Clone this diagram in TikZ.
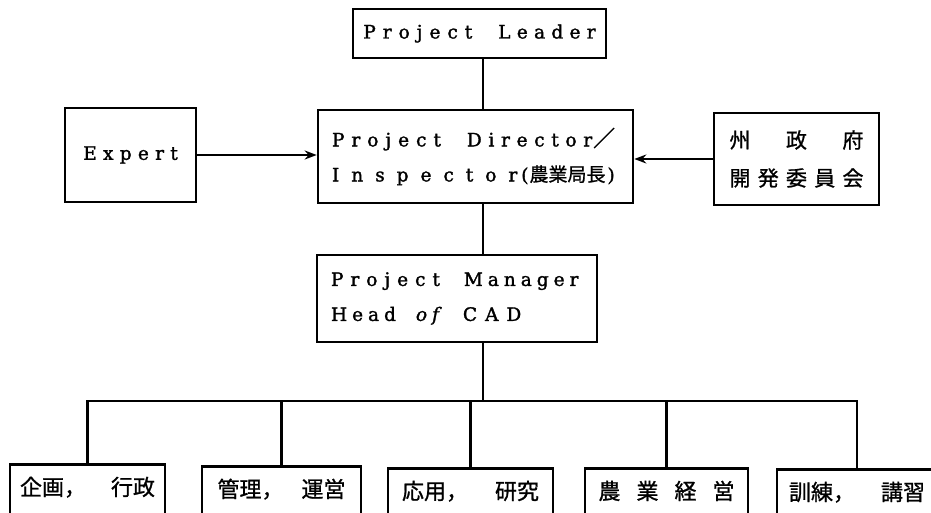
\documentclass[tikz,border=0pt]{standalone}
\usepackage{fontspec}
\setmainfont{DejaVu Serif}
\newfontfamily\latf[FakeBold=1.6]{DejaVu Serif}
\newfontfamily\jpfont[FakeBold=1.0]{Noto Sans CJK JP}
\newdimen\lsk \lsk=6.7pt
\newcommand\ls[2][\lsk]{{\lsk=#1\relax\lsA#2\relax\unkern}}
\def\lsA#1{\ifx#1\relax\else#1\kern\lsk\expandafter\lsA\fi}
\newcommand\wsp[1][26pt]{\hspace*{#1}}
\usetikzlibrary{arrows.meta}
\begin{document}
\begin{tikzpicture}[x=1pt,y=-1pt,
  box/.style={draw, line width=2.6pt, rectangle, inner sep=0pt},
  lbl/.style={font=\latf\fontsize{18.5}{35}\selectfont},
  jlbl/.style={font=\jpfont\fontsize{21}{38}\selectfont},
  bbox/.style={box, anchor=north, font=\jpfont\fontsize{22}{24}\selectfont,
               text height=22pt, text depth=40pt, inner ysep=9pt},
  conn/.style={line width=2.6pt},
  arr/.style={line width=2.6pt, -{Stealth[length=12pt,width=9pt]}}]
\useasboundingbox (0,0) rectangle (931,513);
\clip (0,0) rectangle (931,513);

\node[box, minimum width=253pt, minimum height=49pt, lbl] (leader) at (479.5,33.5)
  {\ls[7pt]{Project}\wsp\ls[6.3pt]{Leader}};
\node[box, minimum width=315pt, minimum height=93pt, text width=287pt, align=left, inner xsep=14pt, lbl]
  (director) at (475.5,156.5)
  {\ls[7pt]{Project}\wsp\ls[6.7pt]{Director}\kern1pt{\jpfont\fontsize{22}{35}\selectfont ／}\\
   \ls[12pt]{Inspector}\kern4pt(\kern1pt{\jpfont\fontsize{19}{35}\selectfont 農業局長}\kern2pt)};
\node[box, minimum width=131pt, minimum height=94pt, lbl] (expert) at (130.5,155) {\ls[6.3pt]{Expert}};
\node[box, minimum width=165pt, minimum height=92pt, align=center, jlbl] (gov) at (796.5,159)
  {\makebox[134pt][s]{州\hfill 政\hfill 府}\\\makebox[134pt][s]{開\hfill 発\hfill 委\hfill 員\hfill 会}};
\node[box, minimum width=280pt, minimum height=87pt, text width=252pt, align=left, inner xsep=14pt, lbl]
  (manager) at (457,298.5)
  {\ls[7pt]{Project}\wsp[24pt]\ls[5pt]{Manager}\\
   \ls[5pt]{Head}\wsp[20pt]{\itshape\ls[5pt]{of}}\wsp[24pt]\ls[8pt]{CAD}};

\node[bbox, minimum width=155pt] (b1) at (87.5,463) {\makebox[135pt][s]{企画，\hfill 行政}};
\node[bbox, minimum width=159pt] (b2) at (281.5,465) {\makebox[128pt][s]{管理，\hfill 運営}};
\node[bbox, minimum width=165pt] (b3) at (470.5,467) {\makebox[137pt][s]{応用，\hfill 研究}};
\node[bbox, minimum width=163pt] (b4) at (666.5,467) {\makebox[136pt][s]{農\hfill 業\hfill 経\hfill 営}};
\node[bbox, minimum width=160pt] (b5) at (857,468) {\makebox[136pt][s]{訓練，\hfill 講習}};

\coordinate (spine) at (483,0);
\coordinate (bus) at (483,401);

\draw[conn] (leader.south -| spine) -- (director.north -| spine);
\draw[conn] (director.south -| spine) -- (manager.north -| spine);
\draw[conn] (manager.south -| spine) -- (bus);
\draw[conn] (b1.north) |- (bus) -| (b5.north);
\draw[conn] (b2.north) -- (b2.north |- bus);
\draw[conn] (b3.north) -- (b3.north |- bus);
\draw[conn] (b4.north) -- (b4.north |- bus);

\draw[arr] (expert.east) -- (director.west |- expert.east);
\draw[arr] (gov.west) -- (director.east |- gov.west);
\end{tikzpicture}
\end{document}
